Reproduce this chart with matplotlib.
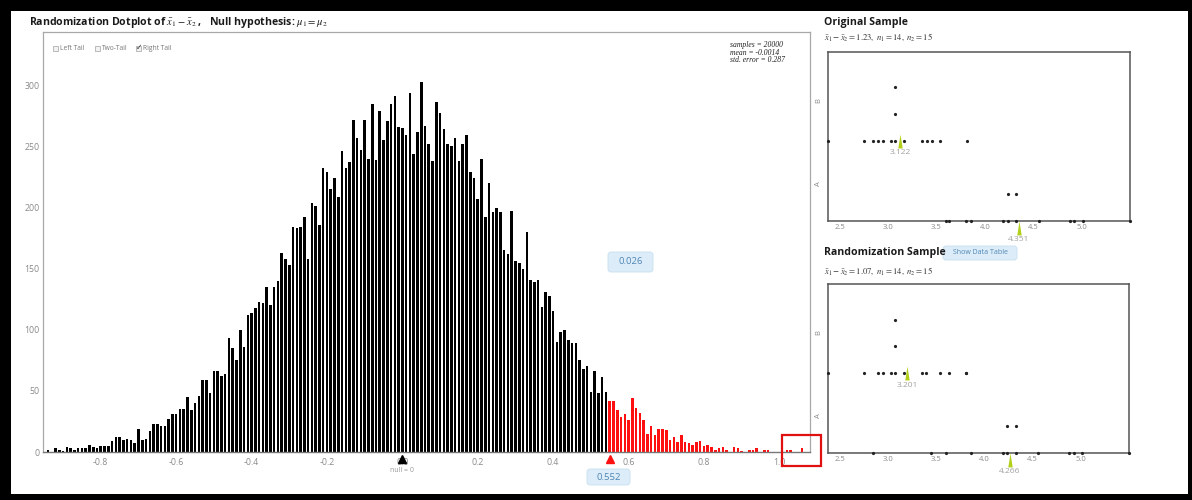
import numpy as np
import matplotlib
matplotlib.use("Agg")
import matplotlib.pyplot as plt
from matplotlib.patches import Rectangle, FancyBboxPatch
from matplotlib.path import Path
from matplotlib.transforms import Affine2D, blended_transform_factory
from collections import Counter

plt.rcParams['font.family'] = ['Open Sans', 'DejaVu Sans']
plt.rcParams['mathtext.fontset'] = 'stix'

W, H = 1192, 500

# ---------------- randomization distribution: counts per 0.01-wide bin ----------------
bin_first = -0.94
bin_width = 0.01
counts = [
    2, 0, 3, 2, 1, 4, 3, 2, 3, 3, 3, 6, 4, 3, 5, 5, 5, 9,
    12, 12, 10, 11, 10, 7, 19, 10, 11, 17, 23, 23, 21, 21,
    27, 31, 31, 35, 35, 45, 34, 40, 46, 59, 59, 48, 66, 66, 62, 64,
    93, 85, 75, 100, 86, 112, 114, 118, 123, 122, 135, 120, 135, 140, 163, 158, 153,
    184, 183, 184, 192, 158, 204, 201, 186, 232, 229, 215, 224, 209, 246, 232, 237,
    272, 257, 247, 272, 240, 285, 239, 279, 255, 271, 285, 291, 266, 265, 259, 294, 244, 262,
    303, 267, 252, 238, 286, 277, 264, 252, 250, 257, 238, 252, 259, 229, 224, 207, 240, 192,
    220, 196, 200, 196,
    165, 162, 197, 156, 155, 150, 180, 141, 139, 141, 119, 131, 128, 115, 90, 98, 100, 92,
    89, 89, 75, 68, 70, 49, 66, 48, 61, 49,
    42, 42, 34, 29, 31, 26, 44, 36, 32, 26, 15, 21, 14, 19, 19, 18, 10, 12, 8, 14,
    8, 7, 6, 8, 9, 5, 6, 4, 2, 3, 4, 2, 0, 4, 3, 1, 0, 2, 2, 3,
    0, 2, 2, 0, 0, 0, 0, 2, 2, 0, 0, 3,
]
cutoff = 0.552
tail_proportion = "0.026"
samples = 20000
dist_mean = "-0.0014"
std_error = "0.287"
null_value = 0
x_ticks = [-0.8, -0.6, -0.4, -0.2, 0.0, 0.2, 0.4, 0.6, 0.8, 1.0]
y_ticks = [0, 50, 100, 150, 200, 250, 300]
tail_options = ["Left Tail", "Two-Tail", "Right Tail"]
tail_checked = [False, False, True]

# ---------------- samples (group 1 = A, group 2 = B) ----------------
groups = ["A", "B"]
orig_values = {
    "B": [2.38, 2.75, 2.845, 2.895, 2.945, 3.03, 3.075, 3.075, 3.075, 3.165,
          3.355, 3.40, 3.45, 3.54, 3.815],
    "A": [3.60, 3.635, 3.81, 3.86, 4.19, 4.235, 4.235, 4.325, 4.325, 4.555,
          4.875, 4.925, 5.015, 5.50],
}
orig_means = {"A": 4.351, "B": 3.122}
orig_diff = "1.23"
rand_values = {
    "B": [2.38, 2.75, 2.895, 2.945, 3.03, 3.075, 3.075, 3.075, 3.165, 3.355,
          3.40, 3.54, 3.635, 3.81, 3.815],
    "A": [2.845, 3.45, 3.60, 3.86, 4.19, 4.235, 4.235, 4.325, 4.325, 4.555,
          4.875, 4.925, 5.015, 5.50],
}
rand_means = {"A": 4.266, "B": 3.201}
rand_diff = "1.07"
n1, n2 = 14, 15
sample_ticks = [2.5, 3.0, 3.5, 4.0, 4.5, 5.0]
sample_range = (2.38, 5.50)

GREY = "#8a8a8a"
BLUE_TXT = "#4f86b5"
BLUE_BOX = "#dcecf8"
RED = "#ff1010"
GREEN = "#b3cf1a"

fig = plt.figure(figsize=(W / 100, H / 100), dpi=100)
fig.patch.set_facecolor("white")
# pixel coordinates measured from the top-left corner
px = Affine2D().scale(1 / W, -1 / H).translate(0, 1) + fig.transFigure


def rect_px(l, t, r, b):
    return [l / W, 1 - b / H, (r - l) / W, (b - t) / H]


def ftext(x, y, s, **kw):
    kw.setdefault("va", "center")
    return fig.text(x, y, s, transform=px, **kw)


def pill(x0, y0, x1, y1, text, size):
    box = FancyBboxPatch((x0, y0), x1 - x0, y1 - y0,
                         boxstyle="round,pad=0,rounding_size=3",
                         transform=px, fc=BLUE_BOX, ec="#c7dff0", lw=0.6)
    fig.add_artist(box)
    ftext((x0 + x1) / 2, (y0 + y1) / 2, text, ha="center", color=BLUE_TXT, fontsize=size)


# ---------------- main dotplot ----------------
ax = fig.add_axes(rect_px(43, 32, 810, 452))
centers = bin_first + bin_width * np.arange(len(counts))
colors = np.where(centers + bin_width / 2 > cutoff, RED, "#000000")
ax.bar(centers, counts, width=bin_width * 0.68, color=colors, linewidth=0, zorder=2)
ax.set_xlim(bin_first - 5 / 377, bin_first + 762 / 377)
ax.set_ylim(0, 420 / 1.2223)
ax.set_xticks(x_ticks)
ax.set_xticklabels([f"{t:.1f}" for t in x_ticks])
ax.set_yticks(y_ticks)
ax.tick_params(length=0, labelsize=6.3, labelcolor=GREY)
ax.tick_params(axis="x", pad=4.5)
ax.tick_params(axis="y", pad=2.5)
for side in ["left", "right", "top"]:
    ax.spines[side].set_color("#a8a8a8")
    ax.spines[side].set_linewidth(0.9)
ax.spines["bottom"].set_color("#777777")
ax.spines["bottom"].set_linewidth(1.0)

tri = blended_transform_factory(ax.transData, px)
ax.plot([null_value], [458.5], marker="^", ms=5.5, color="black", transform=tri,
        clip_on=False, zorder=6)
ax.plot([cutoff], [458.5], marker="^", ms=5.5, color=RED, transform=tri,
        clip_on=False, zorder=6)
ax.text(null_value, 470, f"null = {null_value}", transform=tri, ha="center", va="center",
        fontsize=5, color="#9a9a9a")

pill(587, 469, 630, 485, f"{cutoff:.3f}", 6.8)
pill(608, 252, 653, 272, tail_proportion, 6.8)

# tail selection checkboxes
box_x = [53, 95, 136]
for bx, label, checked in zip(box_x, tail_options, tail_checked):
    fig.add_artist(Rectangle((bx, 45.5), 5, 5, transform=px, fc="#f2f2f2",
                             ec="#b0b0b0", lw=0.6))
    if checked:
        ftext(bx + 2.7, 47.5, "\u2713", ha="center", fontsize=5.5, color="#333",
              family=["DejaVu Sans"])
    ftext(bx + 7, 48.5, label, ha="left", fontsize=4.8, color="#777")

stats = [f"samples = {samples}", f"mean = {dist_mean}", f"std. error = {std_error}"]
for k, s in enumerate(stats):
    ftext(730, 45 + 7.6 * k, s, ha="left", fontsize=5.5, family="Liberation Serif",
          style="italic", color="#222")

# title
ftext(29, 22, r"Randomization Dotplot of $\bar{x}_1 - \bar{x}_2$ ,   Null hypothesis: $\mu_1 = \mu_2$",
      ha="left", fontsize=7.6, fontweight="bold", color="#1a1a1a")

# red highlight frame in the far tail
fig.add_artist(Rectangle((782, 435), 39, 31, transform=px, fill=False, ec="#e01010", lw=1.6))


# ---------------- sample panels ----------------
mark_path = Path([(0, 1), (-0.32, -1), (0.32, -1), (0, 1)],
                 [Path.MOVETO, Path.LINETO, Path.LINETO, Path.CLOSEPOLY])


def sample_panel(rect, values, means):
    a = fig.add_axes(rect)
    a.set_xlim(*sample_range)
    a.set_ylim(0, 6.34)
    base = {"A": 0, "B": 3}
    for g in groups:
        seen = Counter()
        xs, ys = [], []
        for v in sorted(values[g]):
            xs.append(v)
            ys.append(base[g] + seen[v])
            seen[v] += 1
        a.plot(xs, ys, "o", ms=2.3, color="#222", mew=0, clip_on=False, zorder=4)
    # group means
    a.plot([means["B"]], [3.0], marker=mark_path, ms=10, color=GREEN, mew=0,
           clip_on=False, zorder=5)
    a.text(means["B"], 2.55, f"{means['B']:.3f}", ha="center", va="center",
           fontsize=6, color="#a0a0a0")
    a.plot([means["A"]], [-0.28], marker=mark_path, ms=10, color=GREEN, mew=0,
           clip_on=False, zorder=5)
    a.text(means["A"], -0.68, f"{means['A']:.3f}", ha="center", va="center",
           fontsize=6, color="#a0a0a0")
    a.set_xticks(sample_ticks)
    a.set_xticklabels([f"{t:.1f}" for t in sample_ticks])
    a.set_yticks([1.4, 4.5])
    a.set_yticklabels(["A", "B"], rotation=90, va="center")
    a.tick_params(length=0, labelsize=5.5, labelcolor=GREY)
    a.tick_params(axis="x", pad=2.5)
    a.tick_params(axis="y", pad=4)
    for s in a.spines.values():
        s.set_color("#555555")
        s.set_linewidth(1.1)
    return a


sample_panel(rect_px(828, 51.7, 1130, 221), orig_values, orig_means)
sample_panel(rect_px(828, 284, 1129, 453), rand_values, rand_means)

ftext(824, 22, "Original Sample", ha="left", fontsize=7.6, fontweight="bold", color="#1a1a1a")
ftext(824, 37.5, r"$\bar{x}_1 - \bar{x}_2 = \mathit{" + orig_diff + r"},\ n_1 = \mathit{" + str(n1)
      + r"},\ n_2 = \mathit{" + str(n2) + "}$", ha="left", fontsize=6.2, color="#333")
ftext(824, 252, "Randomization Sample", ha="left", fontsize=7.6, fontweight="bold", color="#1a1a1a")
ftext(824, 271.5, r"$\bar{x}_1 - \bar{x}_2 = \mathit{" + rand_diff + r"},\ n_1 = \mathit{" + str(n1)
      + r"},\ n_2 = \mathit{" + str(n2) + "}$", ha="left", fontsize=6.2, color="#333")
pill(943, 246, 1017, 260, "Show Data Table", 5)

# black outer frame
for (x0, y0, x1, y1) in [(0, 0, W, 11), (0, 494, W, H), (0, 0, 11, H), (1188, 0, W, H)]:
    fig.add_artist(Rectangle((x0, y0), x1 - x0, y1 - y0, transform=px, fc="black", ec="none"))

fig.savefig("out.png", dpi=100)
